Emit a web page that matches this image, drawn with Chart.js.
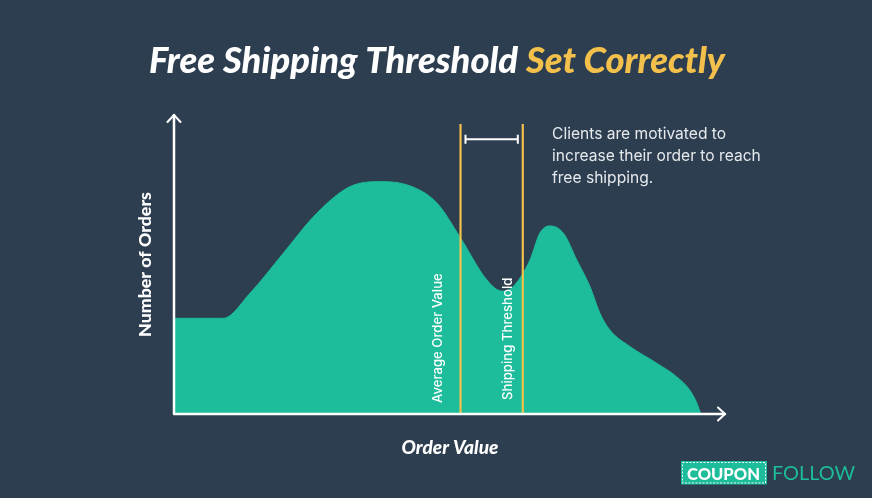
<!DOCTYPE html>
<html>
<head>
<meta charset="utf-8">
<script src="https://cdn.jsdelivr.net/npm/chart.js@4"></script>
<style>
  html, body { margin: 0; padding: 0; background: #2c3e50; }
  #wrap { width: 872px; height: 498px; }
</style>
</head>
<body>
<div id="wrap"><canvas id="c" width="872" height="498"></canvas></div>
<script>
// ---- data ----
const orderValue = [0, 8.9, 13.8, 19.8, 25.9, 31.9, 37.4, 42.8, 47.7, 51.9, 56.8, 59.5, 61.5, 64.6, 66.4, 68.2, 70.7, 73.1, 75.5, 77.3, 79.1, 82.8, 87.6, 91.2, 93.6, 94.9, 95.6];
const numOrders  = [32.0, 32.0, 40.4, 53.7, 67.1, 76.0, 77.7, 76.3, 70.6, 59.2, 44.8, 41.1, 42.5, 51.5, 60.5, 62.9, 60.4, 51.5, 42.6, 33.7, 28.1, 22.5, 17.0, 12.5, 8.0, 3.6, 0];
const avgOrderValue = 52.0;
const shippingThreshold = 63.3;
const markerTop = 97;
const bracketFrom = 52.9;
const bracketTo = 62.4;
const bracketLevel = 91.9;

const titleWhite = "Free Shipping Threshold ";
const titleYellow = "Set Correctly";
const xTitle = "Order Value";
const yTitle = "Number of Orders";
const avgLabel = "Average Order Value";
const thrLabel = "Shipping Threshold";
const noteLines = ["Clients are motivated to", "increase their order to reach", "free shipping."];
const logoA = "COUPON";
const logoB = "FOLLOW";

const BG = "#2c3e50", TEAL = "#1dbc9a", YEL = "#f3c14b", WHITE = "#ffffff";

function fit(ctx, text, style, weight, family, width) {
  ctx.font = `${style} ${weight} 100px ${family}`;
  const w = ctx.measureText(text).width;
  return 100 * width / w;
}

const deco = {
  id: 'deco',
  beforeDraw(chart) {
    const ctx = chart.ctx;
    ctx.save();
    ctx.fillStyle = BG;
    ctx.fillRect(0, 0, chart.width, chart.height);
    ctx.restore();
  },
  afterDatasetsDraw(chart) {
    const ctx = chart.ctx;
    const xs = chart.scales.x, ys = chart.scales.y;
    const x0 = xs.getPixelForValue(0), y0 = ys.getPixelForValue(0);
    const xEnd = xs.getPixelForValue(100), yEnd = ys.getPixelForValue(100);
    ctx.save();
    // axes
    ctx.strokeStyle = WHITE; ctx.lineWidth = 2.5; ctx.lineCap = 'round'; ctx.lineJoin = 'round';
    ctx.beginPath();
    ctx.moveTo(x0, y0); ctx.lineTo(x0, yEnd);
    ctx.moveTo(x0, y0); ctx.lineTo(xEnd, y0);
    ctx.stroke();
    ctx.lineWidth = 2;
    ctx.beginPath();
    ctx.moveTo(x0 - 6.5, yEnd + 7); ctx.lineTo(x0, yEnd); ctx.lineTo(x0 + 6.5, yEnd + 7);
    ctx.moveTo(xEnd - 7, y0 - 6.5); ctx.lineTo(xEnd, y0); ctx.lineTo(xEnd - 7, y0 + 6.5);
    ctx.stroke();

    // rotated marker labels
    ctx.fillStyle = WHITE;
    ctx.textBaseline = 'middle'; ctx.textAlign = 'left';
    let s = fit(ctx, avgLabel, 'normal', 500, 'Inter', 130);
    ctx.font = `normal 500 ${s}px Inter`;
    ctx.save();
    ctx.translate(xs.getPixelForValue(avgOrderValue) - 22.5, 403);
    ctx.rotate(-Math.PI / 2);
    ctx.fillText(avgLabel, 0, 0);
    ctx.restore();
    ctx.save();
    ctx.translate(xs.getPixelForValue(shippingThreshold) - 14.5, 400);
    ctx.rotate(-Math.PI / 2);
    ctx.fillText(thrLabel, 0, 0);
    ctx.restore();

    // bracket caps
    ctx.strokeStyle = WHITE; ctx.lineWidth = 2; ctx.lineCap = 'butt';
    const by = ys.getPixelForValue(bracketLevel);
    ctx.beginPath();
    [bracketFrom, bracketTo].forEach(v => {
      const bx = xs.getPixelForValue(v);
      ctx.moveTo(bx, by - 4.5); ctx.lineTo(bx, by + 4.5);
    });
    ctx.stroke();

    // note text
    ctx.fillStyle = '#e6e9ec';
    ctx.textAlign = 'left'; ctx.textBaseline = 'alphabetic';
    s = fit(ctx, noteLines[1], 'normal', 400, 'Inter', 209);
    ctx.font = `normal 400 ${s}px Inter`;
    noteLines.forEach((t, i) => ctx.fillText(t, 552, 139 + i * 22));

    // title
    s = fit(ctx, titleWhite + titleYellow, 'italic', 900, 'Lato', 576);
    ctx.font = `italic 900 ${s}px Lato`;
    const wA = ctx.measureText(titleWhite).width;
    const wT = ctx.measureText(titleWhite + titleYellow).width;
    const tx = 437 - wT / 2;
    ctx.fillStyle = WHITE; ctx.fillText(titleWhite, tx, 72.5);
    ctx.fillStyle = YEL; ctx.fillText(titleYellow, tx + wA, 72.5);

    // axis titles
    ctx.fillStyle = WHITE;
    s = fit(ctx, xTitle, 'italic', 900, 'Lato', 97);
    ctx.font = `italic 900 ${s}px Lato`;
    ctx.textAlign = 'center';
    ctx.fillText(xTitle, 450, 454);
    s = fit(ctx, yTitle, 'normal', 900, 'Lato', 145);
    ctx.font = `normal 900 ${s}px Lato`;
    ctx.save();
    ctx.translate(145.5, 264.5);
    ctx.rotate(-Math.PI / 2);
    ctx.textBaseline = 'middle';
    ctx.fillText(yTitle, 0, 0);
    ctx.restore();

    // logo
    ctx.fillStyle = TEAL;
    ctx.fillRect(681, 461, 86, 23.5);
    ctx.strokeStyle = '#e8f8f4'; ctx.lineWidth = 1; ctx.setLineDash([2, 1.5]);
    ctx.strokeRect(682.5, 462.5, 83, 20.5);
    ctx.setLineDash([]);
    ctx.textAlign = 'left'; ctx.textBaseline = 'alphabetic';
    s = fit(ctx, logoA, 'normal', 900, 'Lato', 73);
    ctx.font = `normal 900 ${s}px Lato`;
    ctx.fillStyle = WHITE; ctx.fillText(logoA, 687, 479.5);
    s = fit(ctx, logoB, 'normal', 400, 'Lato', 83);
    ctx.font = `normal 400 ${s}px Lato`;
    ctx.fillStyle = TEAL; ctx.fillText(logoB, 772, 479.5);
    ctx.restore();
  }
};

const curve = orderValue.map((v, i) => ({ x: v, y: numOrders[i] }));
const marker = v => [{ x: v, y: 0 }, { x: v, y: markerTop }];

new Chart(document.getElementById('c'), {
  type: 'scatter',
  data: {
    datasets: [
      { data: marker(avgOrderValue), showLine: true, borderColor: YEL, borderWidth: 2.2, pointRadius: 0, order: 1 },
      { data: marker(shippingThreshold), showLine: true, borderColor: YEL, borderWidth: 2.2, pointRadius: 0, order: 1 },
      { data: [{ x: bracketFrom, y: bracketLevel }, { x: bracketTo, y: bracketLevel }], showLine: true, borderColor: WHITE, borderWidth: 2, pointRadius: 0, order: 1 },
      { data: curve, showLine: true, fill: 'origin', backgroundColor: TEAL, borderColor: TEAL, borderWidth: 1, pointRadius: 0, cubicInterpolationMode: 'monotone', order: 2 }
    ]
  },
  options: {
    responsive: false,
    animation: false,
    devicePixelRatio: 1,
    layout: { padding: { left: 174, right: 147, top: 115, bottom: 84 } },
    plugins: { legend: { display: false }, tooltip: { enabled: false }, title: { display: false } },
    scales: {
      x: { type: 'linear', min: 0, max: 100, display: false },
      y: { type: 'linear', min: 0, max: 100, display: false }
    }
  },
  plugins: [deco]
});
</script>
</body>
</html>
